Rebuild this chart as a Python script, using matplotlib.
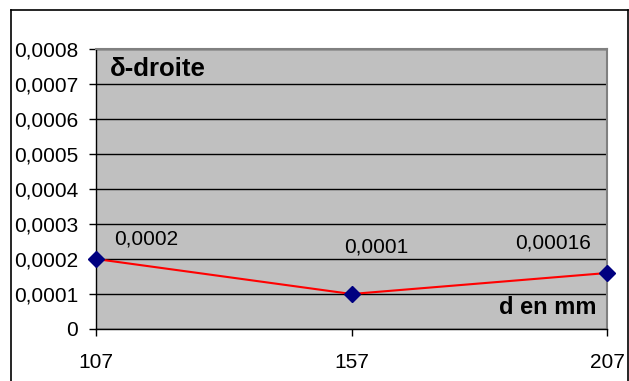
import matplotlib
matplotlib.use("Agg")
import matplotlib.pyplot as plt
from matplotlib.ticker import FuncFormatter, MultipleLocator
from matplotlib.lines import Line2D

plt.rcParams['font.family'] = ['Liberation Sans', 'DejaVu Sans']

d_mm = [107, 157, 207]
delta = [0.0002, 0.0001, 0.00016]
point_labels = ["0,0002", "0,0001", "0,00016"]
title_text = "δ-droite"
xlabel_text = "d en mm"

W, H = 629, 381
fig = plt.figure(figsize=(W / 100, H / 100), dpi=100)
L, R, T, B = 96, 607, 49, 329
ax = fig.add_axes([L / W, 1 - B / H, (R - L) / W, (B - T) / H])
ax.set_facecolor('#c0c0c0')

ax.plot(d_mm, delta, color='#ff0000', lw=1.5, zorder=3, clip_on=False)
ax.plot(d_mm, delta, linestyle='none', marker='D', ms=8, color='#000080',
        zorder=4, clip_on=False)

offsets = [(50, 20), (25, 47), (-54, 30)]
for x, y, lab, off in zip(d_mm, delta, point_labels, offsets):
    ax.annotate(lab, (x, y), xytext=off, textcoords='offset pixels',
                ha='center', va='center', fontsize=15, color='black')

ax.set_xlim(107, 207)
ax.set_ylim(0, 0.0008)
ax.set_xticks(d_mm)
ax.yaxis.set_major_locator(MultipleLocator(0.0001))

def yfmt(v, pos):
    if abs(v) < 1e-12:
        return "0"
    return ("%.4f" % v).replace(".", ",")

ax.yaxis.set_major_formatter(FuncFormatter(yfmt))
ax.xaxis.set_major_formatter(FuncFormatter(lambda v, p: "%d" % round(v)))
ax.grid(axis='y', color='black', lw=1)
ax.set_axisbelow(True)

ax.tick_params(axis='y', length=5, width=1, pad=8, labelsize=15, direction='out')
ax.tick_params(axis='x', length=5, width=1, pad=12, labelsize=15, direction='out')

for s in ['left', 'bottom']:
    ax.spines[s].set_color('black')
    ax.spines[s].set_linewidth(1)
for s in ['right', 'top']:
    ax.spines[s].set_color('#808080')
    ax.spines[s].set_linewidth(1.5)

ax.text(0.028, 0.93, title_text, transform=ax.transAxes, fontsize=18.5,
        fontweight='bold', ha='left', va='center')
ax.text(0.98, 0.075, xlabel_text, transform=ax.transAxes, fontsize=17,
        fontweight='bold', ha='right', va='center')

# outer chart border
def fx(px):
    return px / W
def fy(py):
    return 1 - py / H
fig.add_artist(Line2D([fx(11), fx(11)], [fy(10), fy(381)], color='black', lw=1.2))
fig.add_artist(Line2D([fx(11), fx(628)], [fy(10), fy(10)], color='black', lw=1.2))
fig.add_artist(Line2D([fx(627.5), fx(627.5)], [fy(10), fy(381)], color='black', lw=1.2))

fig.savefig("out.png", dpi=100)
